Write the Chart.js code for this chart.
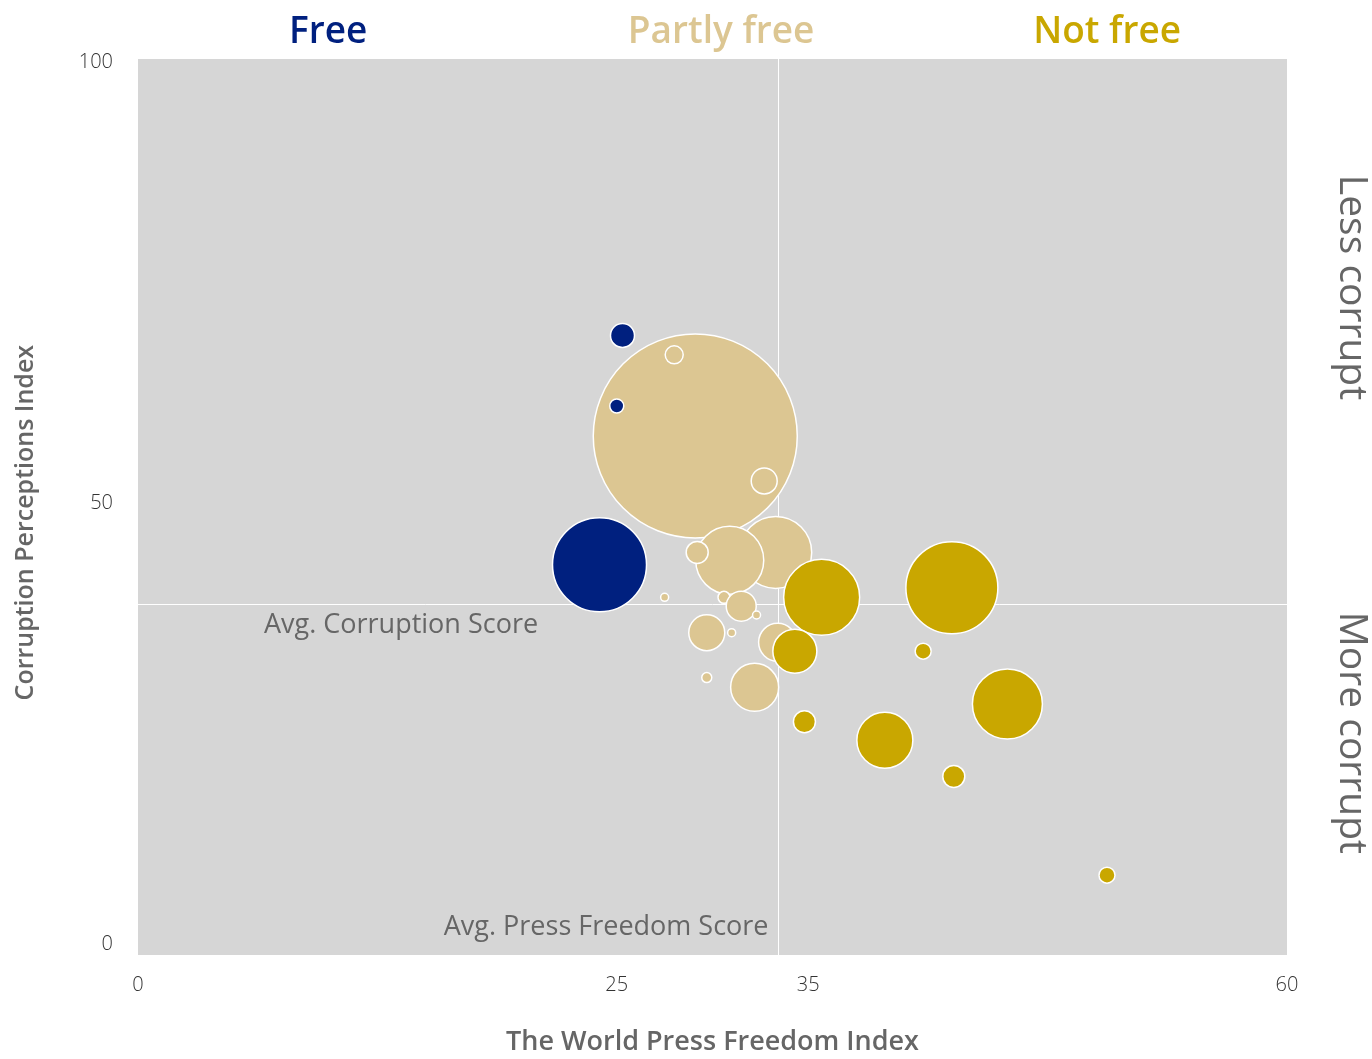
<!DOCTYPE html>
<html>
<head>
<meta charset="utf-8">
<script src="https://cdn.jsdelivr.net/npm/chart.js@4.4.1/dist/chart.umd.min.js"></script>
<style>
  body { margin: 0; background: #fff; }
  #wrap { width: 1372px; height: 1059px; }
</style>
</head>
<body>
<div id="wrap"><canvas id="pressChart" width="1372" height="1059"></canvas></div>
<script>
// Press freedom score (x), corruption perceptions score (y), bubble radius (px)
const freeX = [25.3, 25.0, 24.1];
const freeY = [69, 61, 43];
const freeR = [12, 7, 47];

const partlyX = [29.1, 33.3, 30.9, 28.0, 32.7, 29.2, 27.5, 30.6, 31.5, 32.3, 29.7, 31.0, 33.4, 29.7, 32.2];
const partlyY = [57.6, 44.4, 43.5, 66.8, 52.5, 44.4, 39.3, 39.3, 38.3, 37.3, 35.3, 35.3, 34.2, 30.2, 29.1];
const partlyR = [102, 36, 34, 9, 13, 11, 4, 6, 15, 4, 18, 4, 19, 5, 24];

const notFreeX = [35.7, 42.5, 34.3, 41.0, 45.4, 34.8, 39.0, 42.6, 50.6];
const notFreeY = [39.3, 40.4, 33.2, 33.2, 27.2, 25.2, 23.1, 19.0, 7.8];
const notFreeR = [38, 46, 22, 8, 35, 11, 28, 11, 8];

const xTicks = [0, 25, 35, 60];
const yTicks = [0, 50, 100];

const avgPressFreedom = 33.4;
const avgCorruption = 38.6;

const categories = ['Free', 'Partly free', 'Not free'];
const colors = ['#00207f', '#dcc692', '#c9a700'];

const toPoints = (xs, ys, rs) => xs.map((x, i) => ({ x: x, y: ys[i], r: rs[i] }));

// grey plot area, average lines and their labels
const backdropPlugin = {
  id: 'backdrop',
  beforeDatasetsDraw(chart) {
    const { ctx, chartArea: a, scales } = chart;
    ctx.save();
    ctx.fillStyle = '#d6d6d6';
    ctx.fillRect(a.left, a.top, a.right - a.left, a.bottom - a.top);

    const vx = Math.round(scales.x.getPixelForValue(avgPressFreedom)) + 0.5;
    const hy = Math.round(scales.y.getPixelForValue(avgCorruption)) + 0.5;
    ctx.strokeStyle = '#ffffff';
    ctx.lineWidth = 1;
    ctx.beginPath();
    ctx.moveTo(vx, a.top);
    ctx.lineTo(vx, a.bottom);
    ctx.moveTo(a.left, hy);
    ctx.lineTo(a.right, hy);
    ctx.stroke();

    ctx.fillStyle = '#666666';
    ctx.font = '27px "Open Sans"';
    ctx.textBaseline = 'middle';
    ctx.textAlign = 'center';
    ctx.fillText('Avg. Corruption Score', a.left + 263, hy + 21);
    ctx.textAlign = 'right';
    ctx.fillText('Avg. Press Freedom Score', vx - 10, a.bottom - 28);
    ctx.restore();
  }
};

// category headings on top, y title, and the corrupt labels on the right
const labelsPlugin = {
  id: 'sideLabels',
  afterDraw(chart) {
    const { ctx, chartArea: a } = chart;
    const w = a.right - a.left;
    const h = a.bottom - a.top;
    ctx.save();
    ctx.font = '600 37px "Open Sans"';
    ctx.textAlign = 'center';
    ctx.textBaseline = 'middle';
    const centers = [0.1655, 0.5075, 0.8435];
    categories.forEach((c, i) => {
      ctx.fillStyle = colors[i];
      ctx.fillText(c, a.left + w * centers[i], 32);
    });

    ctx.fillStyle = '#666666';
    ctx.font = '39px "Open Sans"';
    [['Less corrupt', 0.255], ['More corrupt', 0.752]].forEach(([t, f]) => {
      ctx.save();
      ctx.translate(a.right + 64, a.top + h * f);
      ctx.rotate(Math.PI / 2);
      ctx.fillText(t, 0, 0);
      ctx.restore();
    });

    // y axis title sits a bit below the middle of the axis in the original
    ctx.font = '600 25px "Open Sans"';
    ctx.save();
    ctx.translate(26, a.top + h * 0.5175);
    ctx.rotate(-Math.PI / 2);
    ctx.fillText('Corruption Perceptions Index', 0, 0);
    ctx.restore();
    ctx.restore();
  }
};

const datasets = [
  { label: categories[0], data: toPoints(freeX, freeY, freeR), backgroundColor: colors[0], order: 0 },
  { label: categories[2], data: toPoints(notFreeX, notFreeY, notFreeR), backgroundColor: colors[2], order: 1 },
  { label: categories[1], data: toPoints(partlyX, partlyY, partlyR), backgroundColor: colors[1], order: 2 }
].map(d => Object.assign(d, { borderColor: '#ffffff', borderWidth: 1.5, hoverRadius: 0 }));

const tickFont = { family: 'Open Sans', size: 20, weight: '300' };

// fixed box sizes, and no extra label-overflow padding
const fixBox = (size) => (s) => {
  if (s.isHorizontal()) s.height = size; else s.width = size;
  s.paddingTop = s.paddingBottom = s.paddingLeft = s.paddingRight = 0;
};

new Chart(document.getElementById('pressChart'), {
  type: 'bubble',
  data: { datasets: datasets },
  options: {
    responsive: false,
    animation: false,
    // autoPadding off, otherwise the big bubble radius gets added around the plot
    layout: { autoPadding: false, padding: { top: 59, right: 85, left: 0, bottom: 0 } },
    plugins: { legend: { display: false }, tooltip: { enabled: false } },
    scales: {
      x: {
        type: 'linear',
        min: 0,
        max: 60,
        afterBuildTicks: (s) => { s.ticks = xTicks.map(v => ({ value: v })); },
        afterFit: fixBox(104),
        grid: { display: false, drawTicks: false },
        border: { display: false },
        ticks: { padding: 18, color: '#333333', font: tickFont, maxRotation: 0 },
        title: {
          display: true, text: 'The World Press Freedom Index', color: '#666666',
          font: { family: 'Open Sans', size: 27, weight: '600' }, padding: 0
        }
      },
      y: {
        type: 'linear',
        min: -1.25,
        max: 100.34,
        afterBuildTicks: (s) => { s.ticks = yTicks.map(v => ({ value: v })); },
        afterFit: fixBox(138),
        grid: { display: false, drawTicks: false },
        border: { display: false },
        ticks: { padding: 25, color: '#333333', font: tickFont }
      }
    }
  },
  plugins: [backdropPlugin, labelsPlugin]
});
</script>
</body>
</html>
